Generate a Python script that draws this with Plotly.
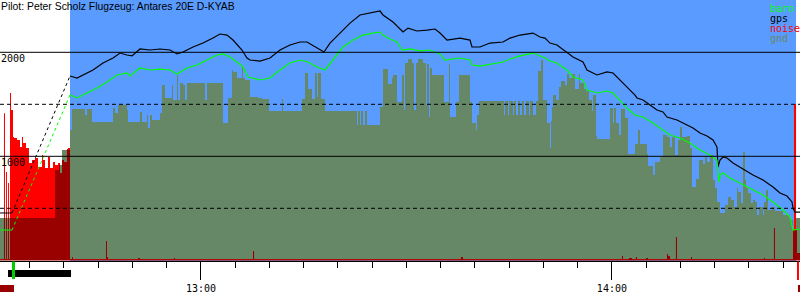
import numpy as np
import plotly.graph_objects as go

# ---------------- data (time = minutes after 12:00, altitude in m) ----------------
title_text = "Pilot: Peter Scholz Flugzeug: Antares 20E D-KYAB"
tick_vals = [60, 120]
tick_text = ["13:00", "14:00"]
t_start, t_end = 30.66, 147.46
flight_start, flight_end = 40.88, 146.88      # blue (in-flight) window
engine_run = (31.83, 41.03)                   # black bar below axis
takeoff_t = (32.41, 32.85)                    # green marker
landing_t = (147.02, 147.31)                  # red marker
noise_marks = [(30.66, 32.70), (147.16, 147.46)]  # dark red marks

gps_t = [30.66, 32.41, 40.88, 41.90, 44.24, 45.70, 47.16, 48.18, 49.20, 49.93, 51.10, 52.56, 54.02, 55.48,
         56.50, 57.38, 58.84, 60.30, 61.76, 62.78, 63.80, 64.68, 65.99, 66.72, 67.16, 68.62, 70.08, 71.54,
         73.00, 74.46, 75.48, 76.21, 76.94, 77.96, 78.84, 80.30, 81.76, 83.22, 84.68, 86.14, 86.58, 88.04,
         88.77, 89.50, 90.23, 91.54, 93.00, 94.17, 94.90, 95.92, 97.82, 99.28, 99.57, 100.74, 102.20,
         104.10, 105.12, 106.58, 108.48, 109.50, 110.23, 110.96, 111.98, 113.44, 114.32, 115.78, 116.36,
         117.82, 119.28, 120.16, 121.18, 122.20, 123.37, 123.66, 124.54, 125.56, 126.58, 127.46, 128.04,
         129.50, 130.96, 131.84, 132.86, 133.88, 134.76, 135.34, 135.49, 135.78, 136.22, 136.80, 137.68,
         139.14, 140.60, 142.06, 143.52, 144.54, 145.56, 146.29, 146.44, 146.73, 147.46]
gps_alt = [455, 455, 1772, 1752, 1830, 1897, 1945, 1993, 1974, 1965, 2032, 2022, 2032, 2022,
           1984, 2003, 2051, 2089, 2137, 2176, 2166, 2118, 2022, 1945, 1926, 1916, 1945, 2022,
           2070, 2099, 2099, 2070, 2041, 2003, 2089, 2185, 2281, 2359, 2378, 2397, 2359, 2291,
           2243, 2195, 2233, 2205, 2214, 2224, 2185, 2118, 2137, 2118, 2051, 2051, 2089,
           2099, 2137, 2166, 2185, 2147, 2137, 2089, 2070, 2003, 1955, 1907, 1830,
           1782, 1811, 1801, 1734, 1657, 1589, 1561, 1541, 1493, 1445, 1426, 1378,
           1349, 1301, 1272, 1224, 1195, 1157, 1089, 897, 964, 993, 984, 936,
           878, 820, 772, 705, 647, 618, 561, 503, 464, 464]

baro_t = [30.66, 32.41, 40.88, 41.90, 43.36, 44.82, 46.28, 47.74, 49.20, 49.64, 51.10, 52.56, 54.02, 55.48,
          56.50, 57.96, 59.42, 60.88, 62.34, 63.22, 64.24, 65.26, 66.14, 66.87, 68.62, 70.08, 71.54, 73.00,
          74.46, 75.63, 76.94, 78.11, 79.28, 80.74, 82.20, 83.66, 85.12, 86.14, 86.58, 87.60, 88.62, 89.35,
          90.52, 91.98, 93.44, 94.90, 95.63, 97.82, 99.28, 99.57, 100.74, 102.20, 104.10, 105.12, 106.58,
          108.48, 109.50, 110.23, 110.96, 111.98, 113.44, 114.32, 115.78, 116.36, 117.82, 119.28, 120.16,
          121.18, 122.20, 123.37, 124.54, 126.00, 127.46, 128.48, 129.94, 131.40, 132.86, 134.32, 135.34,
          135.63, 135.78, 136.22, 137.24, 138.70, 140.60, 142.06, 143.52, 144.98, 146.00, 146.44, 147.46]
baro_alt = [291, 291, 1589, 1561, 1609, 1657, 1714, 1782, 1801, 1772, 1849, 1830, 1839, 1830,
            1791, 1849, 1878, 1926, 1974, 1984, 1955, 1907, 1859, 1763, 1734, 1753, 1830, 1897,
            1926, 1907, 1859, 1830, 1926, 2051, 2118, 2166, 2185, 2195, 2166, 2128, 2099, 2022,
            2032, 2013, 2022, 1984, 1926, 1945, 1926, 1878, 1868, 1888, 1907, 1936, 1965,
            1993, 1965, 1945, 1916, 1897, 1830, 1763, 1734, 1637, 1609, 1628, 1609,
            1541, 1464, 1397, 1378, 1320, 1253, 1205, 1176, 1128, 1061, 1013, 964,
            753, 820, 839, 791, 743, 676, 628, 561, 484, 416, 291, 301]

gnd_t = [30.66, 38.69, 39.27, 39.71, 40.88, 41.17, 43.07, 43.36, 44.09, 47.16, 47.45, 47.89, 49.20, 49.35,
         51.10, 51.39, 52.12, 52.27, 52.56, 52.85, 54.02, 54.31, 54.75, 55.77, 55.92, 56.50, 56.65, 56.94,
         57.38, 57.67, 57.96, 60.59, 60.88, 63.22, 63.95, 64.53, 64.68, 65.26, 65.99, 66.14, 66.43, 67.16,
         68.33, 68.91, 69.93, 71.83, 71.98, 74.75, 75.19, 75.63, 76.21, 76.65, 76.94, 77.09, 77.53, 78.11,
         82.78, 82.93, 83.22, 83.37, 83.66, 83.95, 84.24, 86.14, 86.58, 87.31, 87.89, 88.04, 88.62, 89.35,
         89.64, 89.79, 90.23, 90.81, 91.10, 91.40, 91.69, 92.42, 92.86, 93.00, 93.29, 93.44, 93.73, 95.48,
         96.21, 96.36, 97.24, 97.67, 99.28, 99.57, 100.16, 100.30, 100.59, 104.24, 104.39, 104.83, 104.97,
         105.56, 105.70, 106.00, 106.29, 106.58, 106.87, 107.16, 107.46, 107.89, 108.04, 108.48, 108.92,
         109.21, 109.65, 109.94, 110.52, 110.96, 111.11, 111.25, 111.40, 111.84, 112.27, 112.57, 113.15,
         113.44, 113.73, 114.17, 114.61, 115.19, 115.34, 115.92, 116.22, 116.65, 117.09, 117.24, 117.68,
         117.82, 119.72, 120.16, 120.30, 120.60, 121.03, 121.33, 121.91, 122.35, 123.37, 123.81, 124.10,
         125.12, 125.27, 126.00, 126.29, 127.02, 127.46, 128.04, 128.48, 128.77, 129.21, 129.65, 129.94,
         130.23, 130.96, 131.40, 131.69, 132.28, 132.71, 133.30, 133.59, 133.88, 134.32, 134.76, 135.05,
         135.34, 135.78, 136.51, 136.95, 137.39, 137.82, 138.26, 138.41, 138.85, 139.14, 139.43, 139.58,
         139.87, 140.31, 140.60, 140.89, 141.18, 141.47, 142.06, 142.20, 142.50, 142.79, 143.37, 143.81,
         144.98, 146.00, 146.44, 146.88, 147.46]
gnd_alt = [407, 868, 916, 1061, 1253, 1455, 1397, 1455, 1330, 1465, 1416, 1493, 1445, 1330,
           1426, 1330, 1397, 1272, 1397, 1349, 1416, 1686, 1561, 1686, 1541, 1782, 1541, 1705,
           1686, 1541, 1705, 1541, 1705, 1320, 1561, 1830, 1811, 1753, 1859, 1753, 1734, 1570,
           1561, 1551, 1436, 1551, 1436, 1551, 1801, 1647, 1551, 1801, 1570, 1801, 1551, 1436,
           1301, 1436, 1301, 1436, 1301, 1436, 1301, 1474, 1840, 1695, 1753, 1782, 1522, 1782,
           1445, 1897, 1936, 1897, 1445, 1897, 1936, 1897, 1493, 1888, 1378, 1849, 1782, 1522,
           1888, 1378, 1522, 1782, 1522, 1320, 1253, 1397, 1532, 1397, 1532, 1397, 1532,
           1397, 1532, 1397, 1532, 1397, 1532, 1397, 1532, 1397, 1532, 1397, 1532,
           1820, 1926, 1541, 1320, 1080, 1340, 1474, 1590, 1541, 1666, 1724, 1686,
           1792, 1753, 1792, 1647, 1792, 1705, 1647, 1628, 1541, 1436, 1590, 1195,
           1166, 1465, 1320, 1465, 1320, 1205, 1455, 1368, 1022, 1118, 1253, 1118,
           1022, 907, 820, 945, 994, 1205, 1186, 1090, 1186, 1013, 1157, 1282,
           1186, 1195, 1080, 705, 782, 965, 926, 994, 945, 1013, 772, 695,
           561, 455, 532, 609, 580, 513, 695, 657, 551, 1042, 772, 695,
           647, 551, 580, 561, 436, 513, 436, 561, 676, 484, 513, 474,
           436, 388, 292, 407, 407]

noise_t = [30.66, 31.24, 31.39, 31.54, 31.68, 31.83, 31.97, 32.12, 32.27, 32.56, 32.70, 33.14, 33.58, 33.87,
           34.02, 34.46, 34.89, 35.33, 35.77, 36.21, 36.79, 36.94, 37.23, 37.67, 37.96, 38.40, 38.69, 39.13,
           39.42, 39.71, 40.00, 40.44, 40.59, 40.88, 41.17, 41.32, 46.14, 46.28, 46.43, 50.81, 51.10,
           56.06, 56.21, 67.60, 67.75, 97.96, 98.25, 121.47, 121.62, 122.49, 122.93, 123.51, 123.66,
           124.98, 125.27, 128.04, 128.19, 128.48, 129.35, 129.50, 131.55, 131.69, 142.20, 142.35,
           143.66, 143.81, 146.44, 146.58, 146.88, 147.02, 147.46]
noise_val = [10, 1415, 10, 849, 10, 743, 10, 1609, 1445, 1186, 1176, 1157, 1090, 1186,
             1128, 1080, 936, 964, 984, 897, 1013, 964, 887, 993, 887, 945, 916, 936,
             839, 964, 945, 1070, 1080, 10, 30, 10, 186, 32, 10, 22, 10,
             22, 10, 89, 10, 32, 10, 41, 10, 22, 10, 32, 10,
             22, 10, 61, 41, 10, 224, 10, 32, 10, 22, 10,
             311, 10, 292, 1503, 292, 70, 70]

legend_items = [("baro", "#00ff00"), ("gps", "#000000"), ("noise", "#ff0000"), ("gnd", "#668866")]

# ---------------- figure ----------------
BLUE = "#5a9bff"
GND = "#668866"
DARKRED = "#990000"
MONO = "DejaVu Sans Mono"


def step_eval(ts, vs, grid):
    ts = np.asarray(ts)
    vs = np.asarray(vs)
    idx = np.clip(np.searchsorted(ts, grid, side="right") - 1, 0, len(vs) - 1)
    return vs[idx]


grid = np.unique(np.concatenate([gnd_t, noise_t]))
overlap = np.minimum(step_eval(noise_t, noise_val, grid), step_eval(gnd_t, gnd_alt, grid))

fig = go.Figure()
fig.add_trace(go.Scatter(x=gnd_t, y=gnd_alt, mode="lines", line=dict(shape="hv", width=0, color=GND),
                         fill="tozeroy", fillcolor=GND, hoverinfo="skip"))
fig.add_trace(go.Scatter(x=noise_t, y=noise_val, mode="lines", line=dict(shape="hv", width=0, color="red"),
                         fill="tozeroy", fillcolor="#ff0000", hoverinfo="skip"))
fig.add_trace(go.Scatter(x=grid, y=overlap, mode="lines", line=dict(shape="hv", width=0, color=DARKRED),
                         fill="tozeroy", fillcolor=DARKRED, hoverinfo="skip"))

for ts, alts, col in [(gps_t, gps_alt, "#000000"), (baro_t, baro_alt, "#00ff00")]:
    fig.add_trace(go.Scatter(x=ts[:2], y=alts[:2], mode="lines", line=dict(color=col, width=1)))
    fig.add_trace(go.Scatter(x=ts[1:3], y=alts[1:3], mode="lines", line=dict(color=col, width=1, dash="dot")))
    fig.add_trace(go.Scatter(x=ts[2:], y=alts[2:], mode="lines", line=dict(color=col, width=1.2)))

shapes = []
shapes.append(dict(type="rect", xref="x", yref="paper", x0=flight_start, x1=flight_end, y0=0, y1=1,
                   fillcolor=BLUE, line=dict(width=0), layer="below"))
for lvl, dash in [(500, "4px,3px"), (1000, "solid"), (1500, "4px,3px"), (2000, "solid")]:
    shapes.append(dict(type="line", xref="paper", yref="y", x0=0, x1=1, y0=lvl, y1=lvl,
                       line=dict(color="black", width=1, dash=dash), layer="above"))

ph = 261.0
def py(p):
    return (ph - p) / ph

shapes.append(dict(type="rect", xref="x", yref="paper", x0=engine_run[0], x1=engine_run[1],
                   y0=py(270), y1=py(277), fillcolor="black", line=dict(width=0)))
shapes.append(dict(type="rect", xref="x", yref="paper", x0=takeoff_t[0], x1=takeoff_t[1],
                   y0=py(279), y1=py(261.5), fillcolor="#00cc00", line=dict(width=0)))
shapes.append(dict(type="rect", xref="x", yref="paper", x0=landing_t[0], x1=landing_t[1],
                   y0=py(280), y1=py(261.5), fillcolor="#ff0000", line=dict(width=0)))
for a, b in noise_marks:
    shapes.append(dict(type="rect", xref="x", yref="paper", x0=a, x1=b, y0=py(292), y1=py(285),
                       fillcolor=DARKRED, line=dict(width=0)))

annotations = [dict(text=title_text, xref="paper", yref="paper", x=0, y=1, xanchor="left", yanchor="top",
                    showarrow=False, font=dict(family="Liberation Sans", size=10.4, color="black"),
                    xshift=-1, yshift=1)]
for lvl in [2000, 1000]:
    annotations.append(dict(text=str(lvl), xref="paper", yref="y", x=0, y=lvl, xanchor="left",
                            yanchor="top", showarrow=False, xshift=-1, yshift=1,
                            font=dict(family=MONO, size=10, color="black")))
for i, (name, col) in enumerate(legend_items):
    annotations.append(dict(text=name, xref="paper", yref="paper", x=768 / 800, y=py(1 + 10 * i),
                            xanchor="left", yanchor="top", showarrow=False,
                            font=dict(family=MONO, size=10, color=col)))

fig.update_layout(
    width=800, height=300, autosize=False,
    margin=dict(l=0, r=0, t=0, b=39, pad=0),
    paper_bgcolor="white", plot_bgcolor="white",
    showlegend=False,
    shapes=shapes, annotations=annotations,
    xaxis=dict(range=[t_start, t_end], tickvals=tick_vals, ticktext=tick_text, ticks="outside",
               ticklen=18, tickwidth=1, tickcolor="black", showline=True, linecolor="black", linewidth=1,
               showgrid=False, zeroline=False,
               tickfont=dict(family=MONO, size=10, color="black"),
               minor=dict(ticks="outside", ticklen=6, tickwidth=1, tickcolor="black", dtick=5, tick0=0,
                          showgrid=False)),
    yaxis=dict(range=[-6.7, 2503], visible=False, showgrid=False, zeroline=False),
)

fig.write_html("out.html")
